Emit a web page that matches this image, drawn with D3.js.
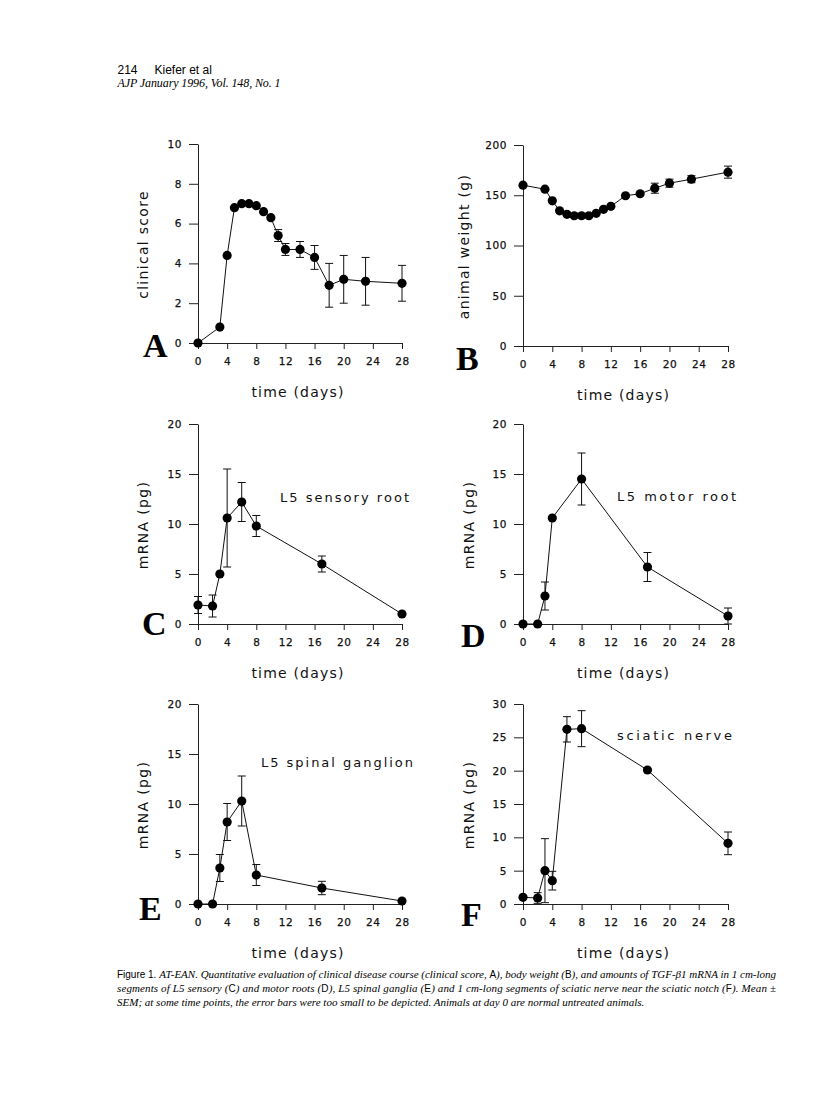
<!DOCTYPE html>
<html><head><meta charset="utf-8">
<script src="https://cdn.jsdelivr.net/npm/d3@7"></script>
<style>body{margin:0;background:#fff} svg{display:block}</style>
</head><body>
<svg id="c" width="816" height="1115"></svg>
<script>
// ---------- data ----------
const xTicks = [0,4,8,12,16,20,24,28];

const daysA  = [0,3,4,5,6,7,8,9,10,11,12,14,16,18,20,23,28];
const scoreA = [0,0.8,4.4,6.8,7.0,7.0,6.9,6.6,6.3,5.4,4.7,4.7,4.3,2.9,3.2,3.1,3.0];
const errA   = [0,0,0,0,0,0,0,0,0,0.3,0.3,0.4,0.6,1.1,1.2,1.2,0.9];
const yTicksA = [0,2,4,6,8,10];

const daysB   = [0,3,4,5,6,7,8,9,10,11,12,14,16,18,20,23,28];
const weightB = [160,156,144.5,134.5,131,129.6,129.6,129.6,132,136,139,149.5,151.5,157,162,166,173];
const errB    = [0,0,0,0,0,0,0,0,0,0,0,0,0,5,4,3.5,6];
const yTicksB = [0,50,100,150,200];

const daysC = [0,2,3,4,6,8,17,28];
const mrnaC = [1.9,1.8,5.0,10.6,12.2,9.8,6.0,1.0];
const errC  = [0.85,1.1,0,4.9,1.95,1.05,0.8,0];

const daysD = [0,2,3,4,8,17,28];
const mrnaD = [0,0,2.8,10.6,14.5,5.7,0.8];
const errD  = [0,0,1.4,0,2.6,1.45,0.8];

const daysE = [0,2,3,4,6,8,17,28];
const mrnaE = [0,0,3.6,8.2,10.3,2.9,1.6,0.3];
const errE  = [0,0,1.35,1.85,2.5,1.05,0.67,0];

const daysF = [0,2,3,4,6,8,17,28];
const mrnaF = [1.0,0.9,5.0,3.5,26.2,26.3,20.1,9.1];
const errF  = [0,0.8,4.8,1.4,1.9,2.7,0,1.7];

const yTicks20 = [0,5,10,15,20];
const yTicks30 = [0,5,10,15,20,25,30];

const yTitles = ["clinical score","animal weight (g)","mRNA (pg)","mRNA (pg)","mRNA (pg)","mRNA (pg)"];
const panelLetters = ["A","B","C","D","E","F"];
const tissueLabels = ["","","L5 sensory root","L5 motor root","L5 spinal ganglion","sciatic nerve"];
const xTitle = "time (days)";

// ---------- layout ----------
const panels = [
  {days:daysA, vals:scoreA, err:errA, yMax:10, yTicks:yTicksA, x0:198, x1:402, y0:343, y1:144, ytx:148, lx:143, ly:357, tl:null},
  {days:daysB, vals:weightB, err:errB, yMax:200, yTicks:yTicksB, x0:523, x1:728, y0:346, y1:145, ytx:469, lx:456, ly:370, tl:null},
  {days:daysC, vals:mrnaC, err:errC, yMax:20, yTicks:yTicks20, x0:198, x1:402, y0:624, y1:424, ytx:148, lx:142, ly:635, tl:{x:280,y:502,w:129}},
  {days:daysD, vals:mrnaD, err:errD, yMax:20, yTicks:yTicks20, x0:523, x1:728, y0:624, y1:424, ytx:474, lx:461, ly:647, tl:{x:617,y:501,w:119}},
  {days:daysE, vals:mrnaE, err:errE, yMax:20, yTicks:yTicks20, x0:198, x1:402, y0:904, y1:704, ytx:148, lx:139, ly:920, tl:{x:261,y:767,w:152}},
  {days:daysF, vals:mrnaF, err:errF, yMax:30, yTicks:yTicks30, x0:523, x1:728, y0:904, y1:704, ytx:474, lx:461, ly:926, tl:{x:617,y:740,w:115}}
];

const svg = d3.select("#c");
const ink = "#111";
const sans = "'DejaVu Sans', sans-serif";

panels.forEach((p, i) => {
  const x = d3.scaleLinear().domain([0,28]).range([p.x0, p.x1]);
  const y = d3.scaleLinear().domain([0,p.yMax]).range([p.y0, p.y1]);
  const g = svg.append("g");

  // axes
  const ax = g.append("g").attr("transform", `translate(0,${p.y0})`)
    .call(d3.axisBottom(x).tickValues(xTicks).tickSize(6).tickPadding(9).tickSizeOuter(0));
  const ay = g.append("g").attr("transform", `translate(${p.x0},0)`)
    .call(d3.axisLeft(y).tickValues(p.yTicks).tickSize(9).tickPadding(7).tickSizeOuter(0));
  [ax, ay].forEach(a => {
    a.selectAll("path,line").attr("stroke", "#222").attr("stroke-width", 1);
    a.selectAll("text").attr("fill", ink).attr("stroke", ink).attr("stroke-width", 0.25)
      .style("font-family", sans).style("font-size", "10.5px").style("letter-spacing","0.6px");
  });

  const pts = p.days.map((d, k) => ({d, v: p.vals[k], e: p.err[k]}));

  // error bars
  const eb = g.append("g").attr("stroke", ink).attr("stroke-width", 1);
  pts.filter(q => q.e > 0).forEach(q => {
    const cx = x(q.d), yt = y(q.v + q.e), yb = y(Math.max(0, q.v - q.e));
    eb.append("line").attr("x1", cx).attr("x2", cx).attr("y1", yt).attr("y2", yb);
    eb.append("line").attr("x1", cx-4).attr("x2", cx+4).attr("y1", yt).attr("y2", yt);
    eb.append("line").attr("x1", cx-4).attr("x2", cx+4).attr("y1", yb).attr("y2", yb);
  });

  // line
  g.append("path").datum(pts)
    .attr("d", d3.line().x(q => x(q.d)).y(q => y(q.v)))
    .attr("fill", "none").attr("stroke", ink).attr("stroke-width", 1);

  // dots
  g.selectAll("circle.dot").data(pts).enter().append("circle")
    .attr("cx", q => x(q.d)).attr("cy", q => y(q.v)).attr("r", 4.6).attr("fill", "#000");

  // x title
  g.append("text").attr("x", (p.x0 + p.x1)/2 - 2).attr("y", p.y0 + 54)
    .attr("text-anchor", "middle").attr("fill", ink)
    .style("font-family", sans).style("font-size", "14px").style("letter-spacing", "1.2px")
    .text(xTitle);

  // y title
  g.append("text").attr("transform", `translate(${p.ytx},${(p.y0 + p.y1)/2 + 1}) rotate(-90)`)
    .attr("text-anchor", "middle").attr("fill", ink)
    .style("font-family", sans).style("font-size", "14px").style("letter-spacing", "1.3px")
    .text(yTitles[i]);

  // panel letter
  g.append("text").attr("x", p.lx).attr("y", p.ly).attr("fill", "#000")
    .style("font-family", "'Liberation Serif', serif").style("font-weight", "bold").style("font-size", "34px")
    .text(panelLetters[i]);

  // tissue label
  if (p.tl) {
    g.append("text").attr("x", p.tl.x).attr("y", p.tl.y).attr("fill", ink)
      .attr("textLength", p.tl.w).attr("lengthAdjust", "spacing")
      .style("font-family", sans).style("font-size", "13px")
      .text(tissueLabels[i]);
  }
});

// header
svg.append("text").attr("x", 117.5).attr("y", 73.5).attr("fill", "#000")
  .style("font-family", "'Liberation Sans', Arial, sans-serif").style("font-size", "12px")
  .text("214");
svg.append("text").attr("x", 154.5).attr("y", 73.5).attr("fill", "#000")
  .style("font-family", "'Liberation Sans', Arial, sans-serif").style("font-size", "12px")
  .text("Kiefer et al");
svg.append("text").attr("x", 117.5).attr("y", 87).attr("fill", "#000")
  .attr("textLength", 163).attr("lengthAdjust", "spacing")
  .style("font-family", "'Liberation Serif', serif").style("font-style", "italic").style("font-size", "12px")
  .text("AJP January 1996, Vol. 148, No. 1");

// caption
const capLines = [
  [["s","Figure 1. "],["i","AT-EAN. Quantitative evaluation of clinical disease course (clinical score, "],["s","A"],["i","), body weight ("],["s","B"],["i","), and amounts of TGF-β1 mRNA in 1 cm-long"]],
  [["i","segments of L5 sensory ("],["s","C"],["i",") and motor roots ("],["s","D"],["i","), L5 spinal ganglia ("],["s","E"],["i",") and 1 cm-long segments of sciatic nerve near the sciatic notch ("],["s","F"],["i","). Mean ±"]],
  [["i","SEM; at some time points, the error bars were too small to be depicted. Animals at day 0 are normal untreated animals."]]
];
const capY = [978, 992, 1006];
const capW = [659, 659, null];
capLines.forEach((line, li) => {
  const t = svg.append("text").attr("x", 117).attr("y", capY[li]).attr("fill", "#000")
    .style("font-size", "11px");
  if (capW[li]) t.attr("textLength", capW[li]).attr("lengthAdjust", "spacing");
  line.forEach(([kind, s]) => {
    const ts = t.append("tspan").text(s);
    if (kind === "s") ts.style("font-family", "'Liberation Sans', Arial, sans-serif").style("font-size", "10px");
    else ts.style("font-family", "'Liberation Serif', serif").style("font-style", "italic");
  });
});
</script>
</body></html>
